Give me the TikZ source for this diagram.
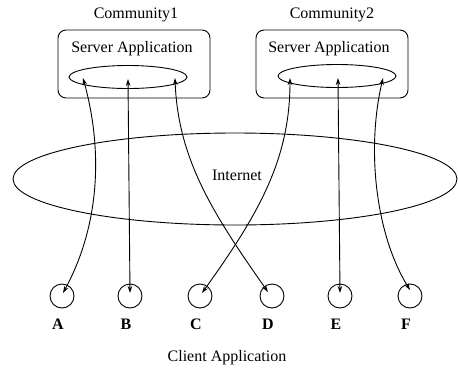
\documentclass[tikz,border=0pt]{standalone}
\usepackage{fontspec}
\setmainfont{Liberation Serif}
\usetikzlibrary{shapes.geometric,arrows.meta}
\begin{document}
\begin{tikzpicture}[x=1pt,y=-1pt,
  line width=0.9pt,
  lbl/.style={font=\fontsize{16}{18}\selectfont, inner sep=0pt},
  letter/.style={font=\fontsize{16}{18}\selectfont\bfseries, inner sep=0pt},
  serverbox/.style={draw, rounded corners=8pt, minimum width=152pt, minimum height=68pt, inner sep=0pt},
  hub/.style={draw, ellipse, minimum width=118pt, minimum height=23pt, inner sep=0pt},
  client/.style={draw, circle, minimum size=24pt, inner sep=0pt},
  link/.style={{Stealth[length=7pt,width=4.5pt]}-{Stealth[length=7pt,width=4.5pt]}}]
\useasboundingbox (0,0) rectangle (458,370);

% communities with their server applications
\node[lbl] (c1) at (136,15) {Community1};
\node[lbl] (c2) at (332,15) {Community2};
\node[serverbox] (box1) at (134,64) {};
\node[serverbox] (box2) at (332,64) {};
\node[lbl] (sa1) at (132,49) {Server Application};
\node[lbl] (sa2) at (329,49) {Server Application};
\node[hub] (h1) at (128,77) {};
\node[hub] (h2) at (337,76) {};

% the internet
\node[draw, ellipse, minimum width=444pt, minimum height=92pt, inner sep=0pt] (net) at (235,179) {};
\node[lbl] (nettxt) at (237,175) {Internet};

% clients
\foreach \n/\x in {A/62,B/130,C/200,D/272,E/340,F/410}{
  \node[client] (\n) at (\x,296) {};
  \node[letter] (l\n) at (\x-4,324) {\n};
}
\node[lbl] (capp) at (227,358) {Client Application};

% end points of the links
\coordinate (pA) at (83,78);   \coordinate (qA) at (63,293);
\coordinate (pB) at (128,79);  \coordinate (qB) at (130,293);
\coordinate (pD) at (175,78);  \coordinate (qD) at (268,292);
\coordinate (pC) at (290,78);  \coordinate (qC) at (202,293);
\coordinate (pE) at (338,78);  \coordinate (qE) at (340,293);
\coordinate (pF) at (383,78);  \coordinate (qF) at (410,290);

\draw[link] (pA) .. controls (103,150) and (100,225) .. (qA);
\draw[link] (pB) -- (qB);
\draw[link] (pD) .. controls (178,160) and (214,215) .. (qD);
\draw[link] (pC) .. controls (290,160) and (258,215) .. (qC);
\draw[link] (pE) -- (qE);
\draw[link] (pF) .. controls (366,150) and (376,235) .. (qF);
\end{tikzpicture}
\end{document}
